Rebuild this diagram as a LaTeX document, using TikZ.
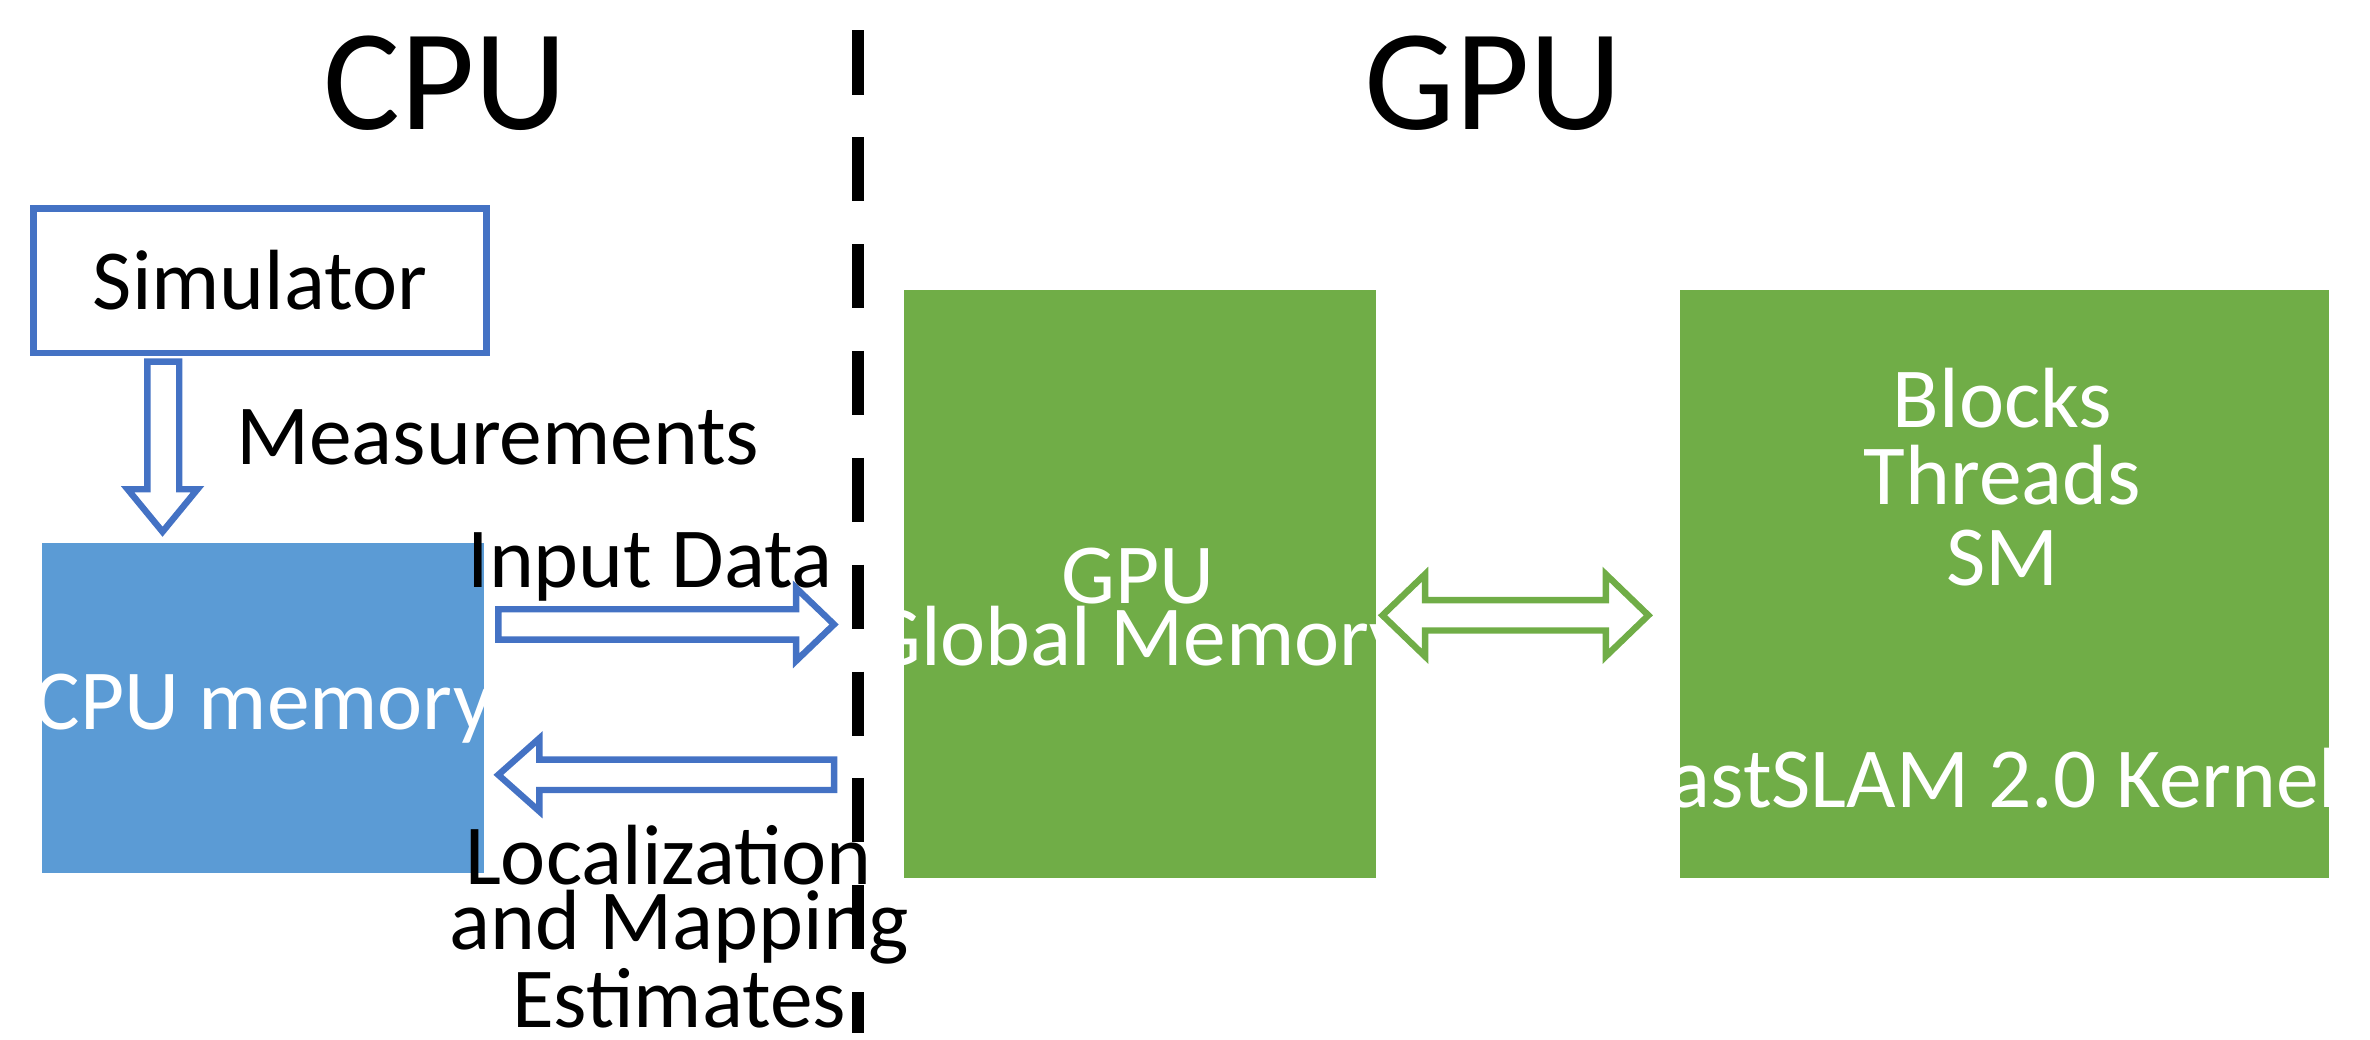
\documentclass[tikz,border=0pt]{standalone}
\usepackage{fontspec}
\setmainfont{Carlito}
\definecolor{bl}{HTML}{4472C4}
\definecolor{cpuf}{HTML}{5B9BD5}
\definecolor{gr}{HTML}{70AD47}
\begin{document}
\begin{tikzpicture}[x=0.01cm,y=-0.01cm,
  title/.style={font=\fontsize{27}{32}\selectfont},
  lab/.style={font=\fontsize{16}{20}\selectfont, align=center},
  box/.style={inner sep=0pt, anchor=north west},
  harrow/.style={draw=bl, line width=1.2pt, fill=white}]
\useasboundingbox (0,0) rectangle (1560,684);
\node[title] (cpu) at (293,55) {CPU};
\node[title] (gpu) at (983,55) {GPU};
\draw[line width=2.2pt, dash pattern=on 12pt off 8pt] (565,20) coordinate (d1) -- (565,680) coordinate (d2);
\node[box, draw=bl, line width=1.2pt, minimum width=2.98cm, minimum height=0.95cm] (sim) at (20,135) {};
\node[lab] at (sim.center) {Simulator};
\node[box, fill=cpuf, minimum width=2.91cm, minimum height=2.17cm] (mem) at (27,357) {};
\node[lab, text=white] at (mem.center) {CPU memory};
\node[box, fill=gr, minimum width=3.11cm, minimum height=3.87cm] (gm) at (594,190) {};
\node[lab, text=white] (g1) at (749,379) {GPU};
\node[lab, text=white] (g2) at (749,423) {Global Memory};
\node[box, fill=gr, minimum width=4.27cm, minimum height=3.87cm] (k) at (1105,190) {};
\node[lab, text=white] (b) at (1318,262) {Blocks};
\node[lab, text=white] (t) at (1318,313) {Threads};
\node[lab, text=white] (s) at (1318,367) {SM};
\node[lab, text=white] (f) at (1318,515) {(FastSLAM 2.0 Kernels)};
% arrows
\draw[harrow] (97,238) -- (118,238) -- (118,322) -- (130,322) -- (107,350) -- (84,322) -- (97,322) -- cycle;
\node[lab, anchor=west] (meas) at (143,288) {Measurements};
\draw[harrow] (328,401) -- (524,401) -- (524,387) -- (549,411) -- (524,435) -- (524,421) -- (328,421) -- cycle;
\node[lab] (in) at (428,373) {Input Data};
\draw[harrow] (549,500) -- (355,500) -- (355,486) -- (328,510) -- (355,534) -- (355,520) -- (549,520) -- cycle;
\node[lab] (l1) at (440,563) {Localization};
\node[lab] (l2) at (447,610) {and Mapping};
\node[lab] (l3) at (447,657) {Estimates};
\draw[draw=gr, line width=1.2pt] (938,395) -- (1057,395) -- (1057,378) -- (1085,405) -- (1057,432) -- (1057,415) -- (938,415) -- (938,432) -- (910,405) -- (938,378) -- cycle;
\end{tikzpicture}
\end{document}
